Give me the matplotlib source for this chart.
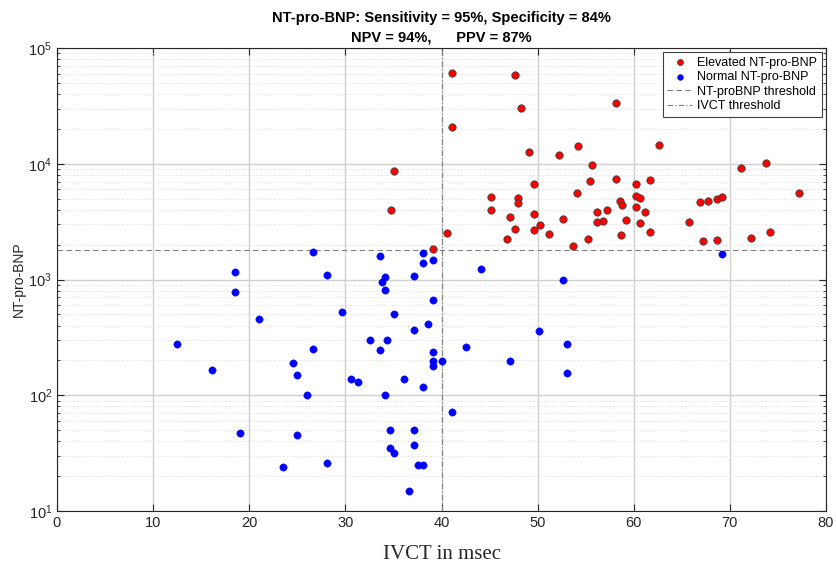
import matplotlib
matplotlib.use("Agg")
import matplotlib.pyplot as plt
from matplotlib.ticker import LogLocator, NullFormatter, FixedLocator

elev_x = [41.1, 47.6, 48.3, 58.2, 41.1, 49.1, 52.2, 54.2, 62.6, 35.1, 55.7, 71.2, 73.8, 77.2,
          55.4, 58.2, 60.2, 61.7, 54.1, 58.6, 58.8, 60.2, 60.7, 60.2, 61.2, 56.2, 57.2, 56.2,
          56.8, 59.2, 60.7, 61.7, 58.7, 55.2, 53.7, 52.6, 66.9, 67.7, 68.7, 69.2, 65.7, 67.2,
          68.7, 72.2, 74.2, 49.6, 45.2, 48.0, 48.0, 34.7, 45.2, 49.6, 47.1, 47.6, 49.6, 50.2,
          51.2, 40.6, 46.8, 39.1]
elev_y = [61000, 58000, 30400, 33500, 20900, 12700, 12000, 14200, 14600, 8700, 9750, 9100, 10100, 5600,
          7100, 7400, 6700, 7300, 5600, 4800, 4400, 5300, 5100, 4200, 3850, 3850, 3950, 3150,
          3200, 3250, 3050, 2550, 2400, 2250, 1950, 3300, 4650, 4800, 4950, 5150, 3150, 2150,
          2200, 2300, 2550, 6650, 5200, 5050, 4550, 4000, 3950, 3700, 3500, 2750, 2700, 2950,
          2450, 2500, 2250, 1850]

norm_x = [69.2, 52.6, 26.6, 33.6, 38.1, 39.1, 38.1, 44.1, 28.1, 34.1, 37.1, 33.8, 34.1, 39.1,
          29.6, 35.1, 38.6, 37.1, 32.6, 34.3, 26.6, 33.6, 42.6, 39.1, 39.1, 40.1, 39.1, 25.0,
          30.6, 31.3, 36.1, 38.1, 26.0, 34.1, 41.1, 25.0, 34.6, 37.1, 34.6, 35.1, 37.1, 28.1,
          37.6, 38.1, 36.6, 18.5, 18.5, 21.0, 12.5, 16.1, 24.5, 19.0, 23.5, 50.1, 53.1, 47.1, 53.1]
norm_y = [1660, 995, 1720, 1610, 1690, 1470, 1400, 1230, 1090, 1060, 1080, 957, 816, 670,
          527, 507, 415, 364, 302, 302, 251, 248, 263, 235, 198, 198, 179, 149,
          137, 131, 137, 118, 101, 101, 72, 45.4, 50, 50, 35, 32, 37, 26,
          25, 25, 15, 1150, 780, 460, 276, 164, 191, 47.5, 24.2, 357, 276, 199, 156]

bnp_threshold = 1800
ivct_threshold = 40

title_lines = ["NT-pro-BNP: Sensitivity = 95%, Specificity = 84%",
               "NPV = 94%,      PPV = 87%"]
x_ticks = [0, 10, 20, 30, 40, 50, 60, 70, 80]

plt.rcParams['font.family'] = ['Liberation Sans', 'DejaVu Sans']

fig = plt.figure(figsize=(8.36, 5.67), dpi=100)
ax = fig.add_axes([57/836, 1-511/567, (826-57)/836, (511-48)/567])

ax.set_yscale('log')
ax.set_xlim(0, 80)
ax.set_ylim(10, 1e5)

ax.xaxis.set_major_locator(FixedLocator(x_ticks))
ax.yaxis.set_major_locator(LogLocator(base=10, numticks=10))
ax.yaxis.set_minor_locator(LogLocator(base=10, subs=range(2, 10), numticks=20))
ax.yaxis.set_minor_formatter(NullFormatter())

ax.grid(True, which='major', color='#d0d0d0', linewidth=1.0, linestyle='-')
ax.grid(True, which='minor', axis='y', color='#dedede', linewidth=0.7, linestyle=':')
ax.set_axisbelow(True)

ax.axhline(bnp_threshold, color='#808080', linestyle=(0, (5, 3)), linewidth=0.8,
           label='NT-proBNP threshold', zorder=2)
ax.axvline(ivct_threshold, color='#808080', linestyle=(0, (5, 2, 1, 2)), linewidth=0.8,
           label='IVCT threshold', zorder=2)

h1 = ax.scatter(elev_x, elev_y, s=28, c='#ff0000', edgecolors='#404040', linewidths=0.6,
                label='Elevated NT-pro-BNP', zorder=3)
h2 = ax.scatter(norm_x, norm_y, s=28, c='#0000ff', edgecolors='#0000ff', linewidths=0.3,
                label='Normal NT-pro-BNP', zorder=3)

handles, labels = ax.get_legend_handles_labels()
order = [labels.index('Elevated NT-pro-BNP'), labels.index('Normal NT-pro-BNP'),
         labels.index('NT-proBNP threshold'), labels.index('IVCT threshold')]
leg = ax.legend([handles[i] for i in order], [labels[i] for i in order],
                loc='upper right', fontsize=9, frameon=True, fancybox=False,
                edgecolor='#404040', framealpha=1, borderpad=0.35, labelspacing=0.2,
                handlelength=2.0, handletextpad=0.4, borderaxespad=0.35, markerscale=0.8)
leg.get_frame().set_linewidth(0.8)

ax.tick_params(axis='both', which='both', direction='in', top=True, right=True,
               labelsize=10.5, colors='#262626', labelcolor='#262626')
ax.tick_params(which='major', length=5)
ax.tick_params(which='minor', length=2.5)
for s in ax.spines.values():
    s.set_color('#262626')
    s.set_linewidth(0.8)

ax.set_xlabel('IVCT in msec', fontsize=15, family=['Liberation Serif', 'DejaVu Serif'],
              labelpad=11, color='#262626')
ax.set_ylabel('NT-pro-BNP', fontsize=10, color='#262626', labelpad=2)
ax.set_title(title_lines[0] + "\n" + title_lines[1], fontsize=10.5, fontweight='bold',
             color='black', pad=5, linespacing=1.45)

fig.savefig('out.png', dpi=100)
